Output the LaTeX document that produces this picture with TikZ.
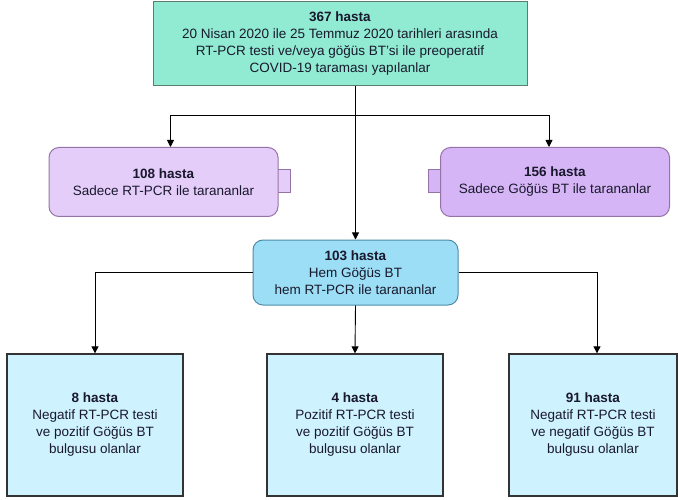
\documentclass[tikz,border=0pt]{standalone}
\usepackage{fontspec}
\setmainfont{Liberation Sans}
\usetikzlibrary{arrows.meta}

\definecolor{mintfill}{RGB}{145,234,210}
\definecolor{mintline}{RGB}{95,125,110}
\definecolor{lilacfill}{RGB}{229,205,250}
\definecolor{lilacdark}{RGB}{214,181,246}
\definecolor{lilacline}{RGB}{150,115,166}
\definecolor{skyfill}{RGB}{155,222,245}
\definecolor{skyline}{RGB}{80,140,170}
\definecolor{icefill}{RGB}{207,242,255}
\definecolor{boxtext}{RGB}{25,25,45}

\begin{document}
\begin{tikzpicture}[x=1pt,y=-1pt,
    every node/.style={font=\fontsize{13.5}{17}\selectfont, text=boxtext, align=center, inner sep=0pt},
    topbox/.style={draw=mintline, fill=mintfill, line width=1pt},
    purplebox/.style={draw=lilacline, line width=1pt, rounded corners=10pt},
    midbox/.style={draw=skyline, fill=skyfill, line width=1pt, rounded corners=10pt},
    resultbox/.style={draw=black!80, fill=icefill, line width=1.3pt},
    link/.style={line width=0.9pt, -{Triangle[length=7pt,width=7pt]}}]
    \useasboundingbox (0,0) rectangle (678,500);

    % Screening population
    \node[topbox, minimum width=374pt, minimum height=84pt] (screened) at (340,44)
        {\textbf{367 hasta}\\20 Nisan 2020 ile 25 Temmuz 2020 tarihleri arasında\\RT-PCR testi ve/veya göğüs BT'si ile preoperatif\\COVID-19 taraması yapılanlar};

    % Side tabs of the purple boxes
    \draw[lilacline, fill=lilacfill, line width=1pt] (276,170) rectangle (290,193);
    \draw[lilacline, fill=lilacdark, line width=1pt] (428,170) rectangle (443,193);

    % Only one test
    \node[purplebox, fill=lilacfill, minimum width=229pt, minimum height=69pt] (pcronly) at (163.5,182)
        {\textbf{108 hasta}\\Sadece RT-PCR ile tarananlar};
    \node[purplebox, fill=lilacdark, minimum width=229pt, minimum height=69pt] (ctonly) at (555,182)
        {\textbf{156 hasta}\\Sadece Göğüs BT ile tarananlar};

    % Both tests
    \node[midbox, minimum width=205pt, minimum height=65pt] (both) at (355.5,272.5)
        {\textbf{103 hasta}\\Hem Göğüs BT\\hem RT-PCR ile tarananlar};

    % Results
    \node[resultbox, minimum width=176pt, minimum height=142pt] (negpos) at (95,425)
        {\textbf{8 hasta}\\Negatif RT-PCR testi\\ve pozitif Göğüs BT\\bulgusu olanlar};
    \node[resultbox, minimum width=176pt, minimum height=142pt] (pospos) at (355,425)
        {\textbf{4 hasta}\\Pozitif RT-PCR testi\\ve pozitif Göğüs BT\\bulgusu olanlar};
    \node[resultbox, minimum width=168pt, minimum height=142pt] (negneg) at (593,425)
        {\textbf{91 hasta}\\Negatif RT-PCR testi\\ve negatif Göğüs BT\\bulgusu olanlar};

    % Connectors
    \coordinate (fork) at (both.north |- 0,115);
    \draw[link] (screened.south -| both.north) -- (both.north);
    \draw[link] (fork) -| ([xshift=7pt]pcronly.north);
    \draw[link] (fork) -| ([xshift=-6pt]ctonly.north);
    \draw[link] (both.west) -| (negpos.north);
    \draw[link] (both.south) -- (pospos.north);
    \draw[link] (both.east) -| ([xshift=4pt]negneg.north);
\end{tikzpicture}
\end{document}
